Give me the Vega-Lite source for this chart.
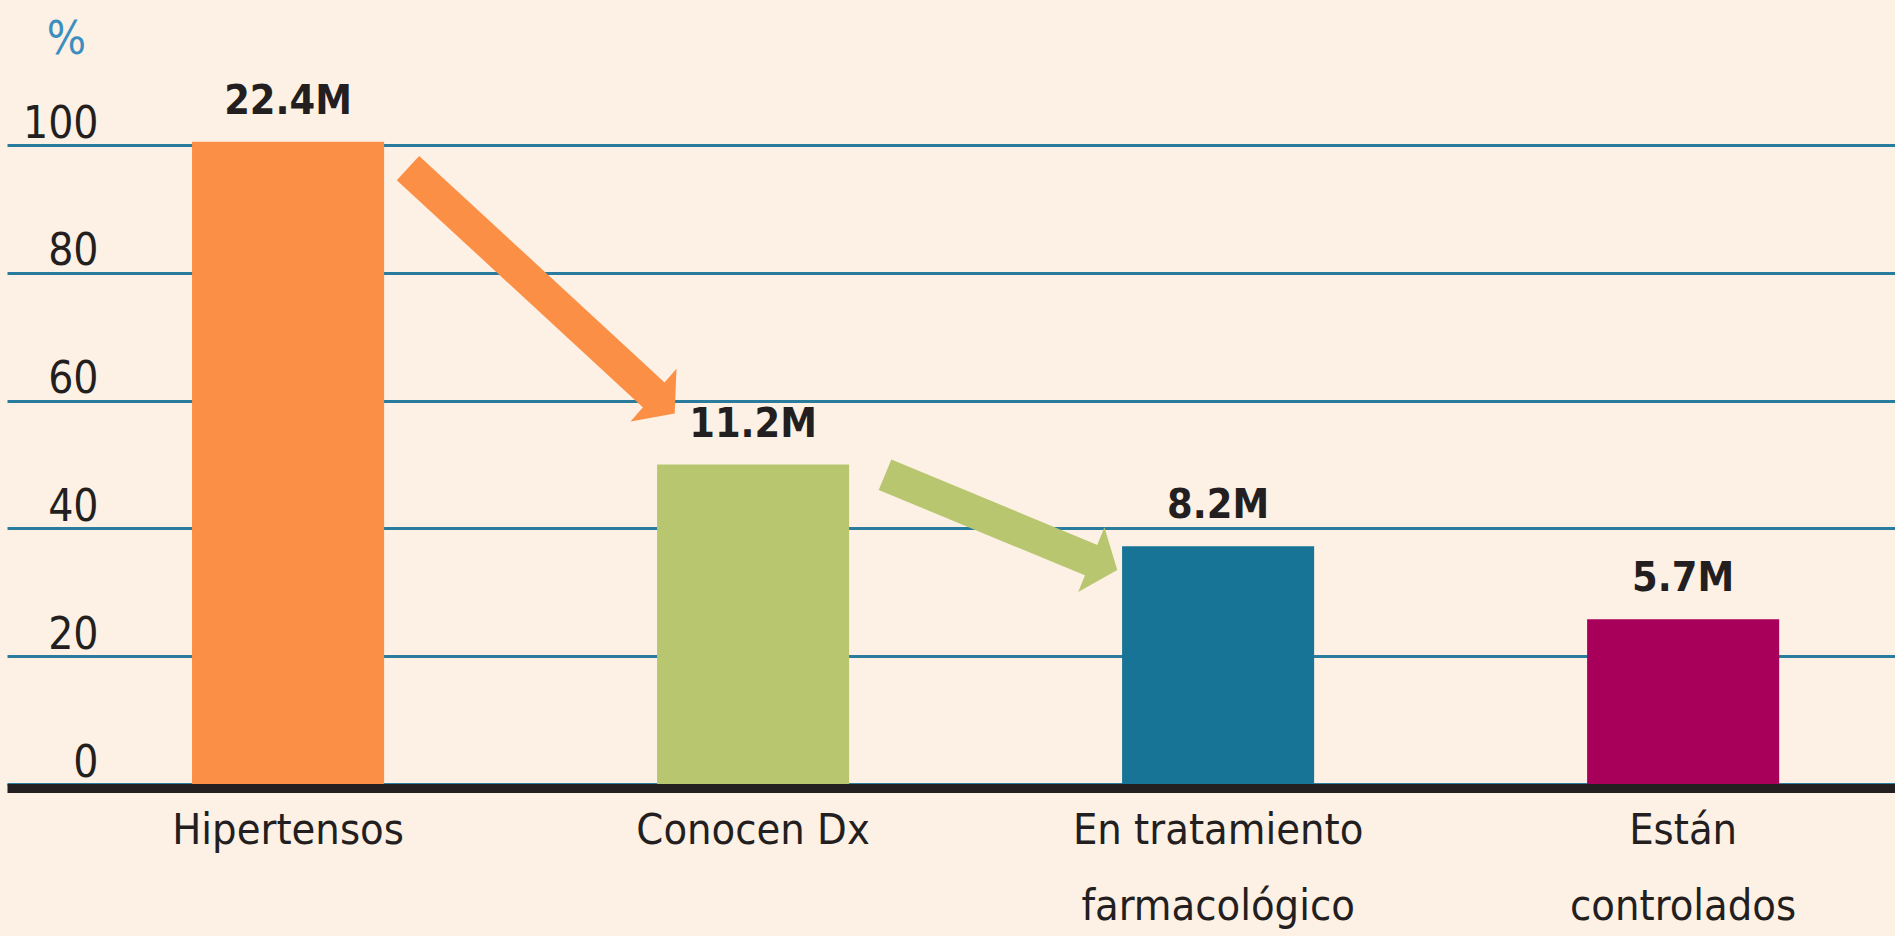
{
  "$schema": "https://vega.github.io/schema/vega-lite/v6.json",
  "width": 1888,
  "height": 639,
  "autosize": {"type": "none"},
  "padding": {"left": 7, "top": 145, "right": 0, "bottom": 152},
  "background": "#FDF0E4",
  "config": {
    "view": {"stroke": null},
    "font": "Liberation Sans Narrow, DejaVu Sans Condensed, sans-serif"
  },
  "datasets": {
    "bars": [
      {"cat": "Hipertensos", "pct": 100.5, "label": "22.4M"},
      {"cat": "Conocen Dx", "pct": 50, "label": "11.2M"},
      {"cat": "En tratamiento farmacológico", "pct": 37.2, "label": "8.2M"},
      {"cat": "Están controlados", "pct": 25.8, "label": "5.7M"}
    ],
    "shafts": [
      {"cat": "Hipertensos", "u": 1.258, "pct": 96.4},
      {"cat": "Hipertensos", "u": 1.794, "pct": 60.4},
      {"cat": "Conocen Dx", "u": 2.284, "pct": 48.4},
      {"cat": "Conocen Dx", "u": 2.735, "pct": 34.8}
    ],
    "heads": [
      {"cat": "Hipertensos", "u": 1.806, "pct": 59.6},
      {"cat": "Conocen Dx", "u": 2.752, "pct": 34.4}
    ]
  },
  "resolve": {"scale": {"x": "independent"}},
  "layer": [
    {
      "layer": [
        {
          "data": {"name": "bars"},
          "mark": {"type": "bar"},
          "encoding": {
            "x": {
              "field": "cat", "type": "nominal", "sort": null,
              "scale": {"paddingInner": 0.587, "paddingOuter": 0.3235, "align": 0.615},
              "axis": {
                "title": null, "labelAngle": 0, "grid": false,
                "domainColor": "#231f20", "domainWidth": 9, "offset": 4,
                "ticks": false, "tickSize": 0, "labelPadding": 21,
                "labelFontSize": 43, "labelColor": "#231f20", "labelLimit": 0,
                "labelBaseline": "top", "labelLineHeight": 76,
                "labelExpr": "datum.value == 'En tratamiento farmacológico' ? ['En tratamiento', 'farmacológico'] : datum.value == 'Están controlados' ? ['Están', 'controlados'] : datum.value"
              }
            },
            "y": {
              "field": "pct", "type": "quantitative",
              "scale": {"domain": [0, 100], "nice": false},
              "axis": {
                "title": "%", "titleAngle": 0, "titleColor": "#3a8fc0",
                "titleFontSize": 46, "titleFontWeight": "normal",
                "titleX": 59, "titleY": -92, "titleAlign": "center", "titleBaseline": "alphabetic",
                "values": [0, 20, 40, 60, 80, 100],
                "grid": true, "gridColor": "#2a7c9e", "gridWidth": 3,
                "domain": false, "ticks": false, "tickSize": 0,
                "labelAlign": "right", "labelBaseline": "alphabetic",
                "labelPadding": -91, "labelOffset": -8,
                "labelFontSize": 44, "labelColor": "#231f20"
              }
            },
            "color": {
              "field": "cat", "type": "nominal",
              "scale": {
                "domain": ["Hipertensos", "Conocen Dx", "En tratamiento farmacológico", "Están controlados"],
                "range": ["#FA8F45", "#B8C76F", "#177496", "#A8005A"]
              },
              "legend": null
            }
          }
        },
        {
          "data": {"name": "bars"},
          "mark": {"type": "text", "dy": -28, "baseline": "alphabetic", "fontSize": 41, "fontWeight": "bold", "color": "#231f20"},
          "encoding": {
            "x": {"field": "cat", "type": "nominal", "sort": null},
            "y": {"field": "pct", "type": "quantitative"},
            "text": {"field": "label"}
          }
        }
      ]
    },
    {
      "layer": [
        {
          "data": {"name": "shafts"},
          "mark": {"type": "line", "strokeWidth": 33, "strokeCap": "butt"},
          "encoding": {
            "x": {"field": "u", "type": "quantitative", "scale": {"domain": [0.3957, 4.456], "nice": false, "zero": false}, "axis": null},
            "y": {"field": "pct", "type": "quantitative"},
            "color": {"field": "cat", "type": "nominal", "legend": null}
          }
        },
        {
          "data": {"name": "heads"},
          "mark": {"type": "point", "filled": true, "opacity": 1, "shape": "M-1,0.35L0,-0.45L1,0.35Z", "size": 4900},
          "encoding": {
            "x": {"field": "u", "type": "quantitative"},
            "y": {"field": "pct", "type": "quantitative"},
            "color": {"field": "cat", "type": "nominal", "legend": null},
            "angle": {"condition": {"test": "datum.cat == 'Hipertensos'", "value": 131}, "value": 112}
          }
        }
      ]
    }
  ]
}
